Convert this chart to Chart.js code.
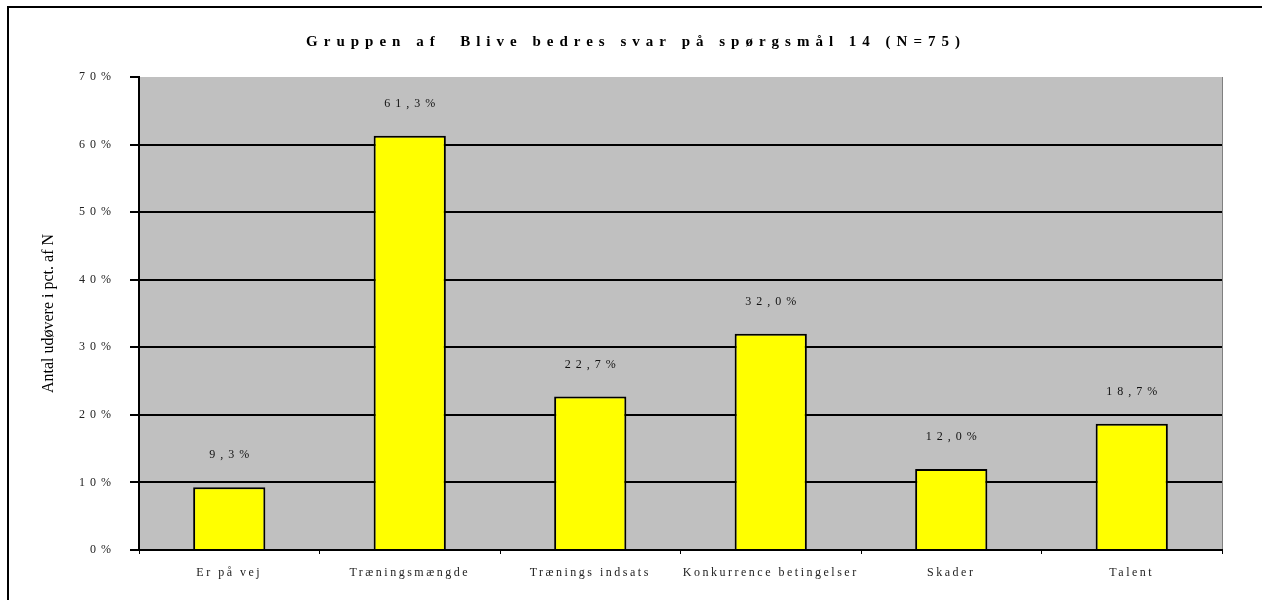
<!DOCTYPE html>
<html>
<head>
<meta charset="utf-8">
<script src="https://cdn.jsdelivr.net/npm/chart.js@4.4.1/dist/chart.umd.min.js"></script>
<style>
  html, body { margin: 0; padding: 0; background: #fff; }
  #wrap { width: 1262px; height: 600px; position: relative; }
</style>
</head>
<body>
<div id="wrap"><canvas id="c"></canvas></div>
<script>
const categories = ['Er på vej', 'Træningsmængde', 'Trænings indsats', 'Konkurrence betingelser', 'Skader', 'Talent'];
const values = [9.3, 61.3, 22.7, 32.0, 12.0, 18.7];
const yTicks = [0, 10, 20, 30, 40, 50, 60, 70];
const chartTitle = 'Gruppen af  Blive bedres svar på spørgsmål 14 (N=75)';
const yTitle = 'Antal udøvere i pct. af N';

const fmt = v => v.toFixed(1).replace('.', ',') + '%';

const decorPlugin = {
  id: 'decor',
  beforeDraw(chart) {
    const ctx = chart.ctx;
    const a = chart.chartArea;
    const patch = (scale, sp) => {
      if (!scale || scale._patched) return;
      const orig = scale.drawLabels;
      scale.drawLabels = function (area) {
        const c = this.ctx;
        c.save();
        c.letterSpacing = sp;
        orig.call(this, area);
        c.restore();
      };
      scale._patched = true;
    };
    patch(chart.scales.y, '5px');
    patch(chart.scales.x, '2.5px');
    ctx.save();
    ctx.fillStyle = '#C0C0C0';
    ctx.fillRect(a.left, a.top, a.right - a.left, a.bottom - a.top);
    ctx.strokeStyle = '#808080';
    ctx.lineWidth = 1;
    ctx.beginPath();
    ctx.moveTo(a.right + 0.5, a.top);
    ctx.lineTo(a.right + 0.5, a.bottom);
    ctx.stroke();
    ctx.strokeStyle = '#000';
    ctx.lineWidth = 2;
    ctx.beginPath();
    ctx.moveTo(8, 600);
    ctx.lineTo(8, 7);
    ctx.lineTo(1262, 7);
    ctx.stroke();
    ctx.restore();
  },
  afterDatasetsDraw(chart) {
    const ctx = chart.ctx;
    const meta = chart.getDatasetMeta(0);
    ctx.save();
    ctx.font = '12px "Liberation Serif"';
    ctx.fillStyle = '#111';
    ctx.textAlign = 'center';
    ctx.textBaseline = 'middle';
    ctx.letterSpacing = '5px';
    meta.data.forEach((el, i) => {
      ctx.fillText(fmt(values[i]), el.x + 2.5, el.y - 32);
    });
    ctx.restore();
  },
  afterDraw(chart) {
    const ctx = chart.ctx;
    ctx.save();
    ctx.font = 'bold 15px "Liberation Serif"';
    ctx.fillStyle = '#000';
    ctx.textAlign = 'center';
    ctx.textBaseline = 'middle';
    ctx.letterSpacing = '6px';
    ctx.fillText(chartTitle, 633 + 3, 42);
    ctx.restore();
  }
};

new Chart(document.getElementById('c'), {
  type: 'bar',
  data: {
    labels: categories,
    datasets: [{
      data: values,
      backgroundColor: '#FFFF00',
      borderColor: '#000',
      borderWidth: 2,
      categoryPercentage: 1.0,
      barPercentage: 0.4
    }]
  },
  options: {
    responsive: true,
    maintainAspectRatio: false,
    animation: false,
    layout: { padding: { left: 0, top: 77, right: 40, bottom: 0 } },
    plugins: {
      legend: { display: false },
      tooltip: { enabled: false },
      title: { display: false }
    },
    scales: {
      x: {
        grid: { display: true, drawOnChartArea: false, drawTicks: true, tickLength: 4, color: '#000', tickColor: '#000', offset: true },
        border: { display: true, color: '#000', width: 2 },
        ticks: { color: '#222', font: { family: '"Liberation Serif"', size: 12 }, padding: 12, maxRotation: 0, autoSkip: false },
        afterFit(scale) { scale.height = 50; }
      },
      y: {
        min: 0,
        max: 70,
        afterBuildTicks(scale) { scale.ticks = yTicks.map(v => ({ value: v })); },
        grid: {
          color: ctx => (ctx.tick && ctx.tick.value === 70) ? 'rgba(0,0,0,0)' : '#000',
          tickColor: '#000',
          lineWidth: 2,
          tickLength: 9
        },
        border: { display: true, color: '#000', width: 2 },
        ticks: {
          color: '#222',
          font: { family: '"Liberation Serif"', size: 12 },
          padding: 14,
          callback: v => v + '%'
        },
        title: {
          display: true,
          text: yTitle,
          color: '#000',
          font: { family: '"Liberation Serif"', size: 16 },
          padding: { top: 39, bottom: 0 }
        },
        afterFit(scale) { scale.width = 139; }
      }
    }
  },
  plugins: [decorPlugin]
});
</script>
</body>
</html>
